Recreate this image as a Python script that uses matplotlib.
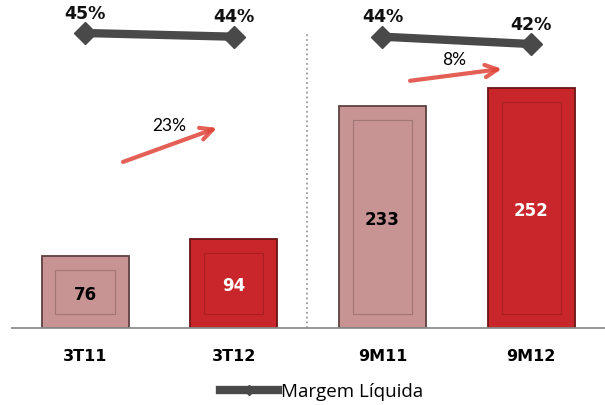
import matplotlib.pyplot as plt
from matplotlib.patches import Rectangle
from matplotlib.lines import Line2D

# dati del grafico (lucro em R$ mi e margem líquida)
periodos = ["3T11", "3T12", "9M11", "9M12"]
lucro = [76, 94, 233, 252]
margem = [45, 44, 44, 42]
margem_lbl = ["45%", "44%", "44%", "42%"]
crescimento = ["23%", "8%"]

cor_clara = "#c79393"
cor_escura = "#c9262b"
borda_clara = "#5e4040"
borda_escura = "#6b1414"
cinza = "#494949"
vermelho = "#e0443a"

fig = plt.figure(figsize=(6.05, 4.05), dpi=100)
ax = fig.add_axes([12 / 605, 77 / 405, 593 / 605, 328 / 405])
ax.set_xlim(-0.491, 3.497)
ax.set_ylim(0, 345)

x = list(range(len(periodos)))
cores = [cor_clara, cor_escura, cor_clara, cor_escura]
bordas = [borda_clara, borda_escura, borda_clara, borda_escura]
barras = ax.bar(x, lucro, width=0.585, color=cores, edgecolor=bordas, linewidth=1.3, zorder=2)

# cornice interna delle barre
for b, bc in zip(barras, bordas):
    dx, dy = 0.094, 14.7
    ax.add_patch(Rectangle((b.get_x() + dx, dy), b.get_width() - 2 * dx, b.get_height() - 2 * dy,
                           fill=False, edgecolor=bc, linewidth=0.8, alpha=0.35, zorder=3))

cor_txt = ["black", "white", "black", "white"]
for xi, v, c in zip(x, lucro, cor_txt):
    ax.text(xi, v / 2 - 3, str(v), ha="center", va="center", fontsize=12,
            fontweight="bold", color=c, zorder=4)

# separatore trimestre / nove mesi
ax.axvline(1.493, ymin=0, ymax=311.6 / 345, color="#9a9a9a", linestyle=":", linewidth=1.3)

# frecce di crescita
frecce = [((0.256, 174.7), (0.888, 210.5), (0.565, 212.6)),
          ((2.186, 260.0), (2.804, 272.6), (2.481, 282.0))]
for (coda, testa, pos), lbl in zip(frecce, crescimento):
    ax.annotate("", xy=testa, xytext=coda,
                arrowprops=dict(arrowstyle="->", color=vermelho, lw=3, alpha=0.85,
                                mutation_scale=22, shrinkA=0, shrinkB=0))
    ax.text(pos[0], pos[1], lbl, ha="center", va="center", fontsize=12.5,
            family="Lato", color="black")

ax.set_xticks(x)
ax.set_xticklabels(periodos, fontsize=11.5, fontweight="bold")
ax.tick_params(axis="x", length=0, pad=15)
ax.set_yticks([])
for s in ["top", "left", "right"]:
    ax.spines[s].set_visible(False)
ax.spines["bottom"].set_color("#8c8c8c")
ax.spines["bottom"].set_linewidth(1.3)

# margine su asse secondario
ax2 = ax.twinx()
ax2.set_ylim(-35.4, 54.0)
ax2.set_yticks([])
for s in ax2.spines.values():
    s.set_visible(False)
for seg in ([0, 1], [2, 3]):
    ax2.plot(seg, [margem[i] for i in seg], color=cinza, linewidth=6, marker="D",
             markersize=11, solid_capstyle="butt")
for xi, m, lbl in zip(x, margem, margem_lbl):
    ax2.annotate(lbl, (xi, m), xytext=(0, 14), textcoords="offset points", ha="center",
                 va="center", fontsize=12.5, fontweight="bold", color="#111111")

handle = Line2D([], [], color=cinza, linewidth=6, marker="D", markersize=5)
fig.legend([handle], ["Margem Líquida"], loc="center",
           bbox_to_anchor=(321.5 / 605, 1 - 392 / 405), frameon=False,
           prop={"family": "Open Sans", "size": 13.5}, handlelength=3.1, handletextpad=0.15,
           borderpad=0)

fig.savefig("out.png", dpi=100)
